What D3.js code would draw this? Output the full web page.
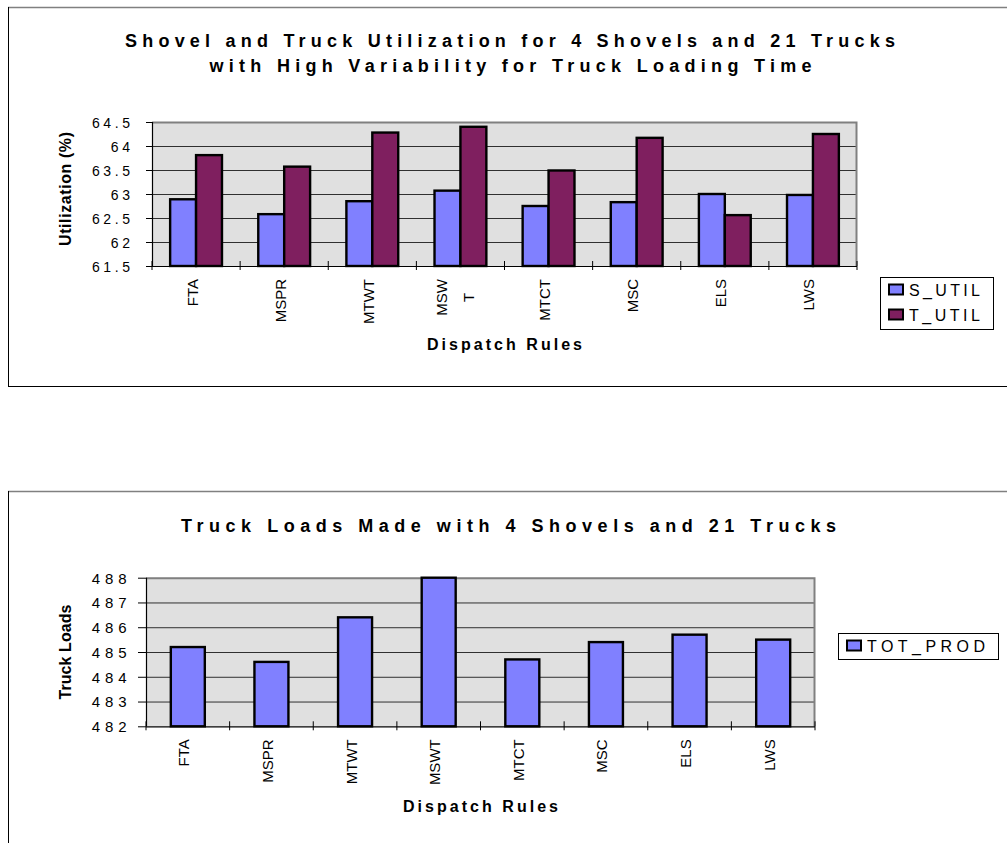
<!DOCTYPE html>
<html>
<head>
<meta charset="utf-8">
<script src="https://cdn.jsdelivr.net/npm/d3@7"></script>
<style>
  html, body { margin: 0; padding: 0; background: #fff; }
  svg { display: block; font-family: "Liberation Sans", Arial, sans-serif; }
</style>
</head>
<body>
<svg id="chart" width="1007" height="843"></svg>
<script>
// ---------- data ----------
const categories = ["FTA", "MSPR", "MTWT", "MSWT", "MTCT", "MSC", "ELS", "LWS"];
const topTickLabels = ["FTA", "MSPR", "MTWT", "MSW T", "MTCT", "MSC", "ELS", "LWS"];
const bottomTickLabels = ["FTA", "MSPR", "MTWT", "MSWT", "MTCT", "MSC", "ELS", "LWS"];
const seriesTop = ["S_UTIL", "T_UTIL"];
const sUtil = [62.89, 62.58, 62.85, 63.07, 62.75, 62.83, 63.00, 62.98];
const tUtil = [63.81, 63.57, 64.28, 64.40, 63.49, 64.17, 62.56, 64.25];
const topYTicks = [61.5, 62, 62.5, 63, 63.5, 64, 64.5];
const seriesBottom = ["TOT_PROD"];
const totProd = [485.2, 484.6, 486.4, 488.0, 484.7, 485.4, 485.7, 485.5];
const bottomYTicks = [482, 483, 484, 485, 486, 487, 488];

const colors = { S_UTIL: "#8080ff", T_UTIL: "#7f1f5f", TOT_PROD: "#8080ff" };

const svg = d3.select("#chart");

function drawChart(cfg) {
  const g = svg.append("g");
  // outer frame
  g.append("line").attr("x1", 8).attr("x2", 1007).attr("y1", cfg.frameTop + 0.5).attr("y2", cfg.frameTop + 0.5)
    .attr("stroke", "#808080").attr("stroke-width", 1.5);
  g.append("line").attr("x1", 8.5).attr("x2", 8.5).attr("y1", cfg.frameTop).attr("y2", cfg.frameBottom)
    .attr("stroke", "#000").attr("stroke-width", 1);
  if (cfg.frameBottom < 843) {
    g.append("line").attr("x1", 8).attr("x2", 1007).attr("y1", cfg.frameBottom - 0.5).attr("y2", cfg.frameBottom - 0.5)
      .attr("stroke", "#000").attr("stroke-width", 1);
  }

  const x = d3.scaleBand().domain(categories).range([cfg.x0, cfg.x1]).padding(0);
  const xs = d3.scaleBand().domain(cfg.series).range([0, x.bandwidth()]).paddingInner(0).paddingOuter(cfg.po);
  const y = d3.scaleLinear().domain(cfg.yDomain).range([cfg.y1, cfg.y0]);

  // plot background
  g.append("rect").attr("x", cfg.x0).attr("y", cfg.y0).attr("width", cfg.x1 - cfg.x0).attr("height", cfg.y1 - cfg.y0)
    .attr("fill", "#e0e0e0");

  // gridlines
  const grid = g.append("g").attr("transform", `translate(${cfg.x0},0)`)
    .call(d3.axisLeft(y).tickValues(cfg.yTicks.slice(1, -1)).tickSize(-(cfg.x1 - cfg.x0)).tickFormat(""));
  grid.select(".domain").remove();
  grid.selectAll(".tick line").attr("stroke", "#303030").attr("stroke-width", 1);

  // plot border (top/right, gray)
  g.append("path")
    .attr("d", `M${cfg.x0},${cfg.y0 + 0.5}H${cfg.x1 - 0.5}V${cfg.y1}`)
    .attr("fill", "none").attr("stroke", "#808080").attr("stroke-width", 2);

  // bars
  cfg.series.forEach(s => {
    g.append("g").selectAll("rect").data(categories).join("rect")
      .attr("x", d => x(d) + xs(s))
      .attr("y", (d, i) => y(cfg.values[s][i]))
      .attr("width", xs.bandwidth())
      .attr("height", (d, i) => y(cfg.yDomain[0]) - y(cfg.values[s][i]))
      .attr("fill", colors[s])
      .attr("stroke", "#000").attr("stroke-width", 2.4);
  });

  // y axis
  const ya = g.append("g").attr("transform", `translate(${cfg.x0},0)`)
    .call(d3.axisLeft(y).tickValues(cfg.yTicks).tickSize(cfg.yTickLen).tickPadding(0).tickFormat(d => String(d)));
  ya.select(".domain").attr("stroke", "#000").attr("stroke-width", 1.2).attr("d", `M0.5,${cfg.y0}V${cfg.y1}`);
  ya.selectAll(".tick line").attr("stroke", "#000");
  ya.selectAll(".tick text")
    .attr("x", -(cfg.x0 - cfg.yLabelRight) + cfg.yTickLs)
    .attr("dy", "0.36em")
    .style("font-size", cfg.yTickFont + "px")
    .style("letter-spacing", cfg.yTickLs + "px")
    .style("font-family", '"Liberation Sans", Arial, sans-serif')
    .attr("fill", "#000");

  // x axis line and crossing ticks at category boundaries
  g.append("line").attr("x1", cfg.x0).attr("x2", cfg.x1).attr("y1", cfg.y1 + 0.5).attr("y2", cfg.y1 + 0.5)
    .attr("stroke", "#000").attr("stroke-width", 1.2);
  const bounds = categories.map(c => x(c)).concat([cfg.x1]);
  g.append("g").selectAll("line").data(bounds).join("line")
    .attr("x1", d => d).attr("x2", d => d)
    .attr("y1", cfg.y1 - 5).attr("y2", cfg.y1 + 4)
    .attr("stroke", "#000").attr("stroke-width", 1);

  // x tick labels (rotated)
  categories.forEach((c, i) => {
    const lines = cfg.tickLabels[i].split(" ");
    const cx = x(c) + x.bandwidth() / 2;
    const tmp = g.append("g");
    const texts = lines.map(l => tmp.append("text").text(l).style("font-size", "15px"));
    const maxLen = d3.max(texts, t => t.node().getComputedTextLength());
    tmp.remove();
    lines.forEach((l, j) => {
      const bx = cx + 1.5 + (j - (lines.length - 1) / 2) * 27 - (lines.length > 1 ? 1 : 0);
      const cy = cfg.y1 + 13 + maxLen / 2;
      g.append("text")
        .attr("transform", `translate(${bx},${cy}) rotate(-90)`)
        .attr("text-anchor", "middle")
        .style("font-size", "15px")
        .attr("fill", "#000")
        .text(l);
    });
  });

  // axis titles
  g.append("text")
    .attr("x", (cfg.x0 + cfg.x1) / 2).attr("y", cfg.xTitleY)
    .attr("text-anchor", "middle")
    .attr("textLength", 155).attr("lengthAdjust", "spacing")
    .style("font-size", "16px").style("font-weight", "bold")
    .text("Dispatch Rules");
  g.append("text")
    .attr("transform", `translate(71,${cfg.yTitleCy}) rotate(-90)`)
    .attr("text-anchor", "middle")
    .attr("textLength", cfg.yTitleLen).attr("lengthAdjust", "spacing")
    .style("font-size", "16px").style("font-weight", "bold")
    .text(cfg.yTitle);

  // chart title
  cfg.title.forEach(t => {
    g.append("text")
      .attr("x", t.cx).attr("y", t.y)
      .attr("text-anchor", "middle")
      .attr("textLength", t.len).attr("lengthAdjust", "spacing")
      .style("font-size", "18px").style("font-weight", "bold")
      .text(t.text);
  });

  // legend
  const L = cfg.legend;
  g.append("rect").attr("x", L.x + 0.5).attr("y", L.y + 0.5).attr("width", L.w).attr("height", L.h)
    .attr("fill", "#fff").attr("stroke", "#000").attr("stroke-width", 1);
  cfg.series.forEach((s, i) => {
    const ry = L.y + L.sw0 + i * L.rowH;
    g.append("rect").attr("x", L.x + 9).attr("y", ry).attr("width", 14).attr("height", 10)
      .attr("fill", colors[s]).attr("stroke", "#000").attr("stroke-width", 2);
    g.append("text").attr("x", L.x + L.tx).attr("y", ry + 11)
      .attr("textLength", L.tlen[i]).attr("lengthAdjust", "spacing")
      .style("font-size", "16px").attr("fill", "#000")
      .text(s);
  });
}

drawChart({
  frameTop: 7, frameBottom: 387,
  x0: 152, x1: 857, y0: 122, y1: 266,
  yDomain: [61.5, 64.5], yTicks: topYTicks,
  series: seriesTop, values: { S_UTIL: sUtil, T_UTIL: tUtil }, po: 0.7,
  yTickLen: 6, yLabelRight: 130, yTickLs: 3.6, yTickFont: 14,
  tickLabels: topTickLabels,
  xTitleY: 350, yTitle: "Utilization (%)", yTitleCy: 189, yTitleLen: 114,
  title: [
    { text: "Shovel and Truck Utilization for 4 Shovels and 21 Trucks", cx: 510, y: 47, len: 770 },
    { text: "with High Variability for Truck Loading Time", cx: 510.5, y: 72, len: 602 }
  ],
  legend: { x: 880, y: 277, w: 113, h: 52, sw0: 7.5, rowH: 25, tx: 29, tlen: [71, 71] }
});

drawChart({
  frameTop: 491, frameBottom: 900,
  x0: 146, x1: 815, y0: 577.7, y1: 726.3,
  yDomain: [482, 488], yTicks: bottomYTicks,
  series: seriesBottom, values: { TOT_PROD: totProd }, po: 0.73,
  yTickLen: 8, yLabelRight: 126.7, yTickLs: 5, yTickFont: 15,
  tickLabels: bottomTickLabels,
  xTitleY: 812, yTitle: "Truck Loads", yTitleCy: 652, yTitleLen: 95,
  title: [
    { text: "Truck Loads Made with 4 Shovels and 21 Trucks", cx: 508.5, y: 532, len: 655 }
  ],
  legend: { x: 838, y: 633, w: 160, h: 26, sw0: 7.5, rowH: 25, tx: 29, tlen: [118] }
});
</script>
</body>
</html>
